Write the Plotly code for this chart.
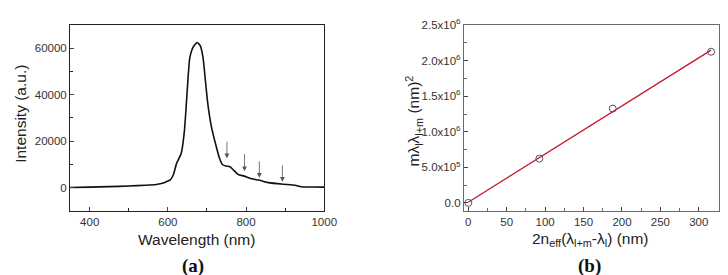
import numpy as np
import plotly.graph_objects as go

# ---------- data: panel (a) emission spectrum ----------
wavelength_nm = [350, 400, 450, 500, 543, 570, 588, 600, 606, 614, 622, 634, 642, 646,
                 650, 656, 665, 675, 683, 690, 696, 702, 711, 723, 732, 740, 748, 759,
                 769, 780, 795, 811, 832, 857, 895, 925, 941, 970, 1000]
intensity_au = [0, 150, 350, 650, 950, 1300, 1900, 2800, 3300, 5500, 10300, 14700, 24000, 33000,
                43300, 55900, 60700, 62550, 61100, 55900, 46000, 36300, 26500, 18100, 12600, 9800, 9300, 8960,
                7300, 5600, 4900, 3900, 3200, 2100, 1400, 1000, 300, 200, 150]

# arrows marking the side modes (x, arrow tip intensity, arrow tail intensity)
arrow_wl = [751, 796, 834, 893]
arrow_tip = [12600, 7000, 4200, 2500]
arrow_tail = [20400, 15100, 11900, 10200]

a_xticks = [400, 600, 800, 1000]
a_yticks = [0, 20000, 40000, 60000]
a_yticktext = ["0", "20000", "40000", "60000"]

# ---------- data: panel (b) linear fit ----------
b_x = [0, 92.5, 188, 316]
b_y = [0, 0.623e6, 1.327e6, 2.127e6]
b_xticks = [0, 50, 100, 150, 200, 250, 300]
b_yticks = [0, 0.5e6, 1.0e6, 1.5e6, 2.0e6, 2.5e6]
b_yticktext = ["0.0", "5.0x10<sup>5</sup>", "1.0x10<sup>6</sup>", "1.5x10<sup>6</sup>",
               "2.0x10<sup>6</sup>", "2.5x10<sup>6</sup>"]

W, H = 728, 275
def px(x):
    return x / W
def py(y):
    return 1 - y / H

slope, intercept = np.polyfit(b_x, b_y, 1)
fit_x = [b_x[0], b_x[-1]]
fit_y = [slope * v + intercept for v in fit_x]

fig = go.Figure()
fig.add_trace(go.Scatter(x=wavelength_nm, y=intensity_au, mode="lines",
                         line=dict(color="#111111", width=1.6, shape="spline", smoothing=0.5),
                         xaxis="x", yaxis="y", showlegend=False))
fig.add_trace(go.Scatter(x=fit_x, y=fit_y, mode="lines",
                         line=dict(color="#c4182e", width=1.3),
                         xaxis="x2", yaxis="y2", showlegend=False))
fig.add_trace(go.Scatter(x=b_x, y=b_y, mode="markers",
                         marker=dict(symbol="circle-open", size=7, color="#555555",
                                     line=dict(width=1)),
                         xaxis="x2", yaxis="y2", showlegend=False))

tickfont = dict(family="Liberation Sans, Arial, sans-serif", size=11.5, color="#333333")
common = dict(showgrid=False, zeroline=False, showline=True, mirror=True,
              ticks="inside", ticklen=4, tickwidth=1, tickfont=tickfont)

fig.update_layout(
    width=W, height=H, autosize=False,
    margin=dict(l=0, r=0, t=0, b=0),
    paper_bgcolor="white", plot_bgcolor="white",
    xaxis=dict(domain=[px(63.3), px(322)], range=[350, 1000], tickvals=a_xticks,
               linecolor="#222222", linewidth=1.2, anchor="y",
               minor=dict(ticks="inside", ticklen=3, dtick=100, tick0=0, tickcolor="#222222"),
               **common),
    yaxis=dict(domain=[py(200.5), py(9.5)], range=[-10000, 70000], tickvals=a_yticks,
               ticktext=a_yticktext,
               linecolor="#222222", linewidth=1.2, anchor="x",
               minor=dict(ticks="inside", ticklen=3, dtick=10000, tick0=0, tickcolor="#222222"),
               **common),
    xaxis2=dict(domain=[px(464.3), px(723.7)], range=[-5.6, 326], tickvals=b_xticks,
                linecolor="#6a6a6a", linewidth=1.2, anchor="y2",
                minor=dict(ticks="inside", ticklen=3, dtick=25, tick0=0, tickcolor="#6a6a6a"),
                **common),
    yaxis2=dict(domain=[py(200.5), py(9.5)], range=[-0.11e6, 2.5e6], tickvals=b_yticks,
                ticktext=b_yticktext, linecolor="#6a6a6a", linewidth=1.2, anchor="x2",
                minor=dict(ticks="inside", ticklen=3, dtick=0.25e6, tick0=0, tickcolor="#6a6a6a"),
                **common),
)

anns = []
for x, tip, tail in zip(arrow_wl, arrow_tip, arrow_tail):
    anns.append(dict(x=x, y=tip, ax=x, ay=tail, xref="x", yref="y", axref="x", ayref="y",
                     showarrow=True, arrowhead=2, arrowsize=1.2, arrowwidth=0.8,
                     arrowcolor="#555555", text=""))

title_font = dict(family="Liberation Sans, Arial, sans-serif", size=15.5, color="#222222")
label_font = dict(family="Liberation Serif, Times New Roman, serif", size=19, color="#111111")

anns += [
    dict(text="Wavelength (nm)", x=px(192), y=py(230), xref="paper", yref="paper",
         showarrow=False, font=title_font, xanchor="center", yanchor="middle"),
    dict(text="Intensity (a.u.)", x=px(12), y=py(101), xref="paper", yref="paper",
         showarrow=False, font=title_font, textangle=-90, xanchor="center", yanchor="middle"),
    dict(text="<b>(a)</b>", x=px(188), y=py(258), xref="paper", yref="paper",
         showarrow=False, font=label_font, xanchor="center", yanchor="middle"),
    dict(text="2n<sub>eff</sub>(λ<sub>l+m</sub>-λ<sub>l</sub>) (nm)", x=px(593), y=py(230),
         xref="paper", yref="paper", showarrow=False, font=title_font,
         xanchor="center", yanchor="middle"),
    dict(text="mλ<sub>l</sub>λ<sub>l+m</sub> (nm)<sup>2</sup>", x=px(413), y=py(108),
         xref="paper", yref="paper", showarrow=False, font=title_font, textangle=-90,
         xanchor="center", yanchor="middle"),
    dict(text="<b>(b)</b>", x=px(592), y=py(258), xref="paper", yref="paper",
         showarrow=False, font=label_font, xanchor="center", yanchor="middle"),
]
fig.update_layout(annotations=anns)

fig.write_html("out.html")
